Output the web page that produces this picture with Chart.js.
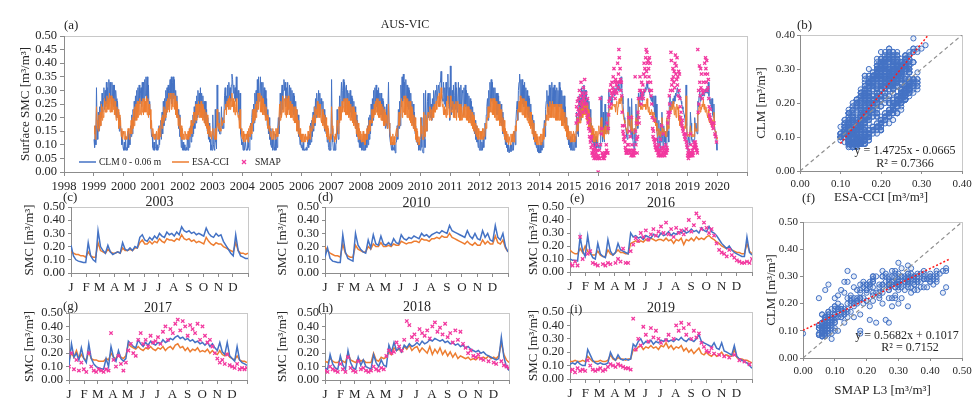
<!DOCTYPE html>
<html>
<head>
<meta charset="utf-8">
<script src="https://cdn.jsdelivr.net/npm/chart.js@4.4.1/dist/chart.umd.min.js"></script>
<style>
  html, body { margin: 0; padding: 0; background: #fff; }
  #fig { position: relative; width: 972px; height: 402px; overflow: hidden; background: #fff;
         font-family: 'Liberation Serif', 'Times New Roman', serif; color: #262626; }
  #fig canvas { position: absolute; }
  .lbl { position: absolute; white-space: nowrap; line-height: 1; transform: translate(0, -50%); }
  .ctr { transform: translate(-50%, -50%); }
</style>
</head>
<body>
<div id="fig"></div>
<script>
// ---------------- Surface soil moisture, weekly values (48 per year, 4 per month), 1999-2019 ----------------
const seriesStartYear = 1999;
const clmWeekly = [
  /*1999*/ 0.12,0.09,0.17,0.10, 0.31,0.17,0.12,0.22, 0.15,0.24,0.17,0.26, 0.20,0.29,0.22,0.27, 0.31,0.23,0.30,0.24, 0.33,0.25,0.31,0.24, 0.34,0.26,0.33,0.27, 0.25,0.33,0.26,0.32, 0.24,0.32,0.23,0.30, 0.27,0.20,0.26,0.21, 0.22,0.15,0.20,0.16, 0.15,0.10,0.13,0.09,
  /*2000*/ 0.08,0.11,0.08,0.13, 0.08,0.09,0.08,0.15, 0.09,0.14,0.10,0.17, 0.13,0.21,0.14,0.23, 0.17,0.26,0.19,0.28, 0.21,0.30,0.22,0.31, 0.24,0.32,0.25,0.29, 0.31,0.24,0.33,0.26, 0.33,0.27,0.34,0.28, 0.35,0.27,0.35,0.26, 0.32,0.23,0.26,0.20, 0.20,0.13,0.14,0.09,
  /*2001*/ 0.08,0.11,0.08,0.09, 0.14,0.08,0.10,0.08, 0.09,0.17,0.10,0.15, 0.19,0.12,0.22,0.14, 0.26,0.17,0.27,0.19, 0.30,0.21,0.31,0.23, 0.32,0.24,0.30,0.34, 0.27,0.35,0.25,0.33, 0.35,0.27,0.34,0.25, 0.30,0.22,0.28,0.20, 0.23,0.16,0.21,0.13, 0.15,0.09,0.13,0.08,
  /*2002*/ 0.11,0.08,0.10,0.08, 0.08,0.09,0.08,0.13, 0.08,0.14,0.09,0.16, 0.17,0.11,0.19,0.13, 0.21,0.14,0.24,0.16, 0.26,0.18,0.28,0.20, 0.30,0.21,0.29,0.22, 0.31,0.23,0.29,0.21, 0.28,0.20,0.26,0.18, 0.26,0.17,0.23,0.15, 0.20,0.12,0.18,0.11, 0.12,0.08,0.10,0.08,
  /*2003*/ 0.21,0.10,0.085,0.08, 0.23,0.11,0.085,0.32, 0.19,0.15,0.22,0.14, 0.14,0.17,0.24,0.16, 0.20,0.16,0.21,0.28, 0.31,0.23,0.28,0.24, 0.32,0.25,0.33,0.27, 0.31,0.26,0.32,0.36, 0.34,0.29,0.32,0.27, 0.31,0.26,0.35,0.27, 0.28,0.30,0.22,0.19, 0.29,0.14,0.12,0.10,
  /*2004*/ 0.11,0.08,0.13,0.08, 0.08,0.11,0.08,0.085, 0.08,0.14,0.09,0.08, 0.11,0.18,0.12,0.20, 0.23,0.15,0.25,0.18, 0.29,0.20,0.30,0.22, 0.34,0.25,0.35,0.26, 0.27,0.35,0.26,0.33, 0.25,0.33,0.24,0.31, 0.22,0.30,0.20,0.27, 0.17,0.23,0.14,0.20, 0.12,0.16,0.10,0.09,
  /*2005*/ 0.12,0.08,0.15,0.09, 0.08,0.14,0.08,0.12, 0.09,0.16,0.20,0.14, 0.19,0.29,0.21,0.28, 0.32,0.23,0.30,0.34, 0.30,0.33,0.24,0.31, 0.25,0.33,0.26,0.23, 0.32,0.25,0.31,0.23, 0.30,0.22,0.29,0.21, 0.28,0.20,0.26,0.18, 0.23,0.15,0.21,0.13, 0.15,0.10,0.12,0.09,
  /*2006*/ 0.10,0.08,0.11,0.08, 0.08,0.085,0.08,0.09, 0.08,0.10,0.13,0.09, 0.14,0.10,0.18,0.11, 0.19,0.13,0.22,0.15, 0.24,0.17,0.27,0.20, 0.29,0.21,0.24,0.30, 0.22,0.29,0.21,0.27, 0.25,0.18,0.26,0.18, 0.23,0.15,0.21,0.14, 0.16,0.11,0.15,0.09, 0.08,0.12,0.08,0.09,
  /*2007*/ 0.34,0.16,0.11,0.08, 0.08,0.11,0.08,0.10, 0.11,0.23,0.14,0.12, 0.17,0.28,0.20,0.27, 0.33,0.24,0.30,0.34, 0.26,0.33,0.24,0.31, 0.32,0.23,0.30,0.22, 0.29,0.21,0.30,0.22, 0.28,0.20,0.27,0.19, 0.26,0.18,0.24,0.16, 0.21,0.13,0.19,0.11, 0.14,0.09,0.13,0.09,
  /*2008*/ 0.11,0.08,0.12,0.08, 0.11,0.08,0.13,0.08, 0.14,0.09,0.17,0.10, 0.20,0.12,0.21,0.14, 0.25,0.17,0.27,0.19, 0.30,0.21,0.31,0.23, 0.32,0.24,0.30,0.22, 0.31,0.23,0.29,0.21, 0.29,0.21,0.27,0.19, 0.26,0.18,0.24,0.16, 0.17,0.25,0.16,0.22, 0.33,0.18,0.13,0.11,
  /*2009*/ 0.10,0.08,0.11,0.08, 0.09,0.08,0.10,0.07, 0.11,0.11,0.17,0.12, 0.23,0.16,0.26,0.17, 0.32,0.24,0.35,0.26, 0.36,0.27,0.33,0.25, 0.34,0.25,0.32,0.24, 0.31,0.23,0.30,0.22, 0.29,0.20,0.26,0.18, 0.25,0.16,0.22,0.14, 0.17,0.11,0.15,0.10, 0.11,0.08,0.11,0.08,
  /*2010*/ 0.12,0.20,0.09,0.075, 0.07,0.29,0.12,0.09, 0.30,0.18,0.15,0.26, 0.29,0.20,0.22,0.29, 0.20,0.25,0.19,0.27, 0.22,0.30,0.24,0.28, 0.30,0.25,0.32,0.27, 0.27,0.32,0.29,0.33, 0.33,0.37,0.29,0.27, 0.26,0.33,0.25,0.31, 0.24,0.33,0.26,0.31, 0.36,0.25,0.31,0.19,
  /*2011*/ 0.39,0.26,0.21,0.30, 0.23,0.32,0.21,0.28, 0.33,0.23,0.31,0.22, 0.25,0.33,0.23,0.31, 0.24,0.32,0.22,0.30, 0.29,0.21,0.31,0.23, 0.32,0.24,0.30,0.22, 0.29,0.21,0.28,0.20, 0.27,0.19,0.26,0.18, 0.24,0.16,0.22,0.14, 0.19,0.12,0.17,0.11, 0.12,0.09,0.13,0.08,
  /*2012*/ 0.08,0.12,0.08,0.11, 0.08,0.13,0.09,0.15, 0.18,0.12,0.21,0.24, 0.27,0.19,0.30,0.22, 0.33,0.24,0.34,0.26, 0.33,0.25,0.31,0.23, 0.31,0.23,0.29,0.21, 0.29,0.21,0.28,0.20, 0.26,0.18,0.25,0.17, 0.22,0.14,0.20,0.13, 0.15,0.10,0.14,0.09, 0.10,0.075,0.10,0.07,
  /*2013*/ 0.07,0.10,0.075,0.10, 0.08,0.11,0.08,0.13, 0.15,0.10,0.19,0.23, 0.26,0.19,0.30,0.33, 0.36,0.26,0.34,0.27, 0.34,0.25,0.32,0.24, 0.33,0.24,0.31,0.23, 0.30,0.21,0.28,0.20, 0.27,0.18,0.25,0.17, 0.21,0.14,0.19,0.12, 0.15,0.10,0.14,0.09, 0.10,0.075,0.10,0.07,
  /*2014*/ 0.07,0.10,0.07,0.11, 0.08,0.12,0.09,0.16, 0.19,0.13,0.23,0.26, 0.30,0.22,0.28,0.21, 0.32,0.24,0.31,0.23, 0.33,0.25,0.31,0.24, 0.32,0.24,0.30,0.23, 0.31,0.23,0.30,0.22, 0.33,0.24,0.31,0.23, 0.30,0.21,0.28,0.20, 0.28,0.18,0.24,0.16, 0.20,0.12,0.17,0.10,
  /*2015*/ 0.12,0.09,0.13,0.08, 0.11,0.08,0.12,0.08, 0.08,0.11,0.13,0.09, 0.22,0.14,0.20,0.13, 0.28,0.20,0.27,0.19, 0.31,0.23,0.30,0.22, 0.32,0.24,0.30,0.22, 0.30,0.21,0.27,0.19, 0.26,0.17,0.23,0.15, 0.18,0.11,0.16,0.10, 0.12,0.09,0.13,0.085, 0.13,0.09,0.12,0.09,
  /*2016*/ 0.10,0.09,0.085,0.27, 0.28,0.15,0.11,0.22, 0.13,0.11,0.25,0.14, 0.15,0.22,0.16,0.14, 0.30,0.27,0.28,0.26, 0.27,0.25,0.28,0.29, 0.30,0.28,0.31,0.29, 0.30,0.31,0.32,0.30, 0.33,0.31,0.30,0.34, 0.35,0.31,0.28,0.25, 0.22,0.20,0.18,0.17, 0.15,0.13,0.12,0.27,
  /*2017*/ 0.27,0.17,0.24,0.16, 0.13,0.27,0.16,0.12, 0.10,0.085,0.16,0.10, 0.25,0.17,0.22,0.16, 0.29,0.27,0.25,0.30, 0.27,0.28,0.26,0.29, 0.28,0.30,0.29,0.31, 0.30,0.32,0.33,0.31, 0.30,0.31,0.29,0.28, 0.27,0.26,0.28,0.25, 0.24,0.28,0.21,0.28, 0.18,0.25,0.15,0.11,
  /*2018*/ 0.09,0.19,0.12,0.08, 0.18,0.11,0.22,0.13, 0.09,0.17,0.11,0.15, 0.10,0.08,0.19,0.13, 0.15,0.11,0.26,0.28, 0.22,0.24,0.26,0.24, 0.27,0.25,0.28,0.26, 0.29,0.28,0.30,0.31, 0.29,0.30,0.28,0.27, 0.28,0.26,0.25,0.24, 0.23,0.22,0.21,0.20, 0.17,0.32,0.17,0.08,
  /*2019*/ 0.11,0.13,0.11,0.10, 0.22,0.18,0.12,0.11, 0.12,0.11,0.12,0.20, 0.16,0.18,0.15,0.14, 0.26,0.24,0.28,0.30, 0.26,0.28,0.27,0.29, 0.28,0.29,0.28,0.29, 0.30,0.29,0.31,0.29, 0.30,0.33,0.28,0.26, 0.25,0.27,0.23,0.27, 0.21,0.20,0.25,0.17, 0.15,0.13,0.11,0.08
];
const esaWeekly = [
  /*1999*/ 0.14,0.17,0.12,0.16, 0.24,0.19,0.16,0.15, 0.21,0.16,0.22,0.17, 0.25,0.19,0.24,0.20, 0.21,0.27,0.22,0.26, 0.22,0.28,0.23,0.27, 0.23,0.29,0.22,0.28, 0.28,0.22,0.27,0.23, 0.27,0.21,0.26,0.21, 0.19,0.24,0.20,0.23, 0.16,0.21,0.17,0.19, 0.13,0.16,0.12,0.15,
  /*2000*/ 0.14,0.12,0.15,0.12, 0.13,0.12,0.14,0.16, 0.15,0.12,0.16,0.14, 0.19,0.14,0.20,0.16, 0.23,0.17,0.24,0.19, 0.25,0.19,0.26,0.20, 0.26,0.21,0.27,0.22, 0.21,0.26,0.22,0.27, 0.21,0.27,0.22,0.26, 0.22,0.28,0.21,0.27, 0.20,0.25,0.21,0.23, 0.16,0.19,0.13,0.16,
  /*2001*/ 0.14,0.12,0.14,0.12, 0.12,0.15,0.12,0.14, 0.16,0.12,0.17,0.13, 0.15,0.20,0.16,0.21, 0.18,0.24,0.19,0.23, 0.20,0.26,0.22,0.27, 0.23,0.29,0.22,0.27, 0.29,0.23,0.29,0.24, 0.24,0.29,0.23,0.28, 0.21,0.26,0.20,0.25, 0.17,0.21,0.16,0.20, 0.13,0.17,0.12,0.16,
  /*2002*/ 0.12,0.14,0.12,0.15, 0.14,0.12,0.14,0.12, 0.15,0.12,0.16,0.13, 0.15,0.19,0.14,0.18, 0.17,0.22,0.18,0.22, 0.19,0.25,0.19,0.25, 0.21,0.26,0.20,0.25, 0.20,0.26,0.20,0.25, 0.19,0.24,0.18,0.23, 0.17,0.22,0.16,0.21, 0.14,0.18,0.13,0.17, 0.13,0.15,0.12,0.14,
  /*2003*/ 0.16,0.14,0.13,0.12, 0.16,0.12,0.12,0.23, 0.17,0.16,0.18,0.15, 0.16,0.15,0.20,0.17, 0.17,0.19,0.18,0.23, 0.23,0.25,0.21,0.26, 0.24,0.27,0.23,0.28, 0.23,0.27,0.24,0.29, 0.24,0.27,0.22,0.26, 0.21,0.24,0.27,0.22, 0.22,0.20,0.21,0.16, 0.23,0.16,0.16,0.13,
  /*2004*/ 0.12,0.15,0.11,0.14, 0.13,0.11,0.14,0.12, 0.15,0.11,0.16,0.13, 0.17,0.13,0.18,0.14, 0.17,0.23,0.18,0.23, 0.19,0.25,0.20,0.26, 0.23,0.29,0.23,0.29, 0.28,0.22,0.28,0.22, 0.27,0.21,0.27,0.21, 0.25,0.19,0.24,0.19, 0.21,0.16,0.20,0.15, 0.17,0.13,0.15,0.12,
  /*2005*/ 0.12,0.16,0.12,0.15, 0.15,0.12,0.16,0.13, 0.16,0.13,0.17,0.20, 0.25,0.19,0.26,0.20, 0.22,0.28,0.22,0.26, 0.27,0.21,0.28,0.20, 0.27,0.21,0.28,0.23, 0.21,0.26,0.20,0.25, 0.20,0.25,0.19,0.24, 0.18,0.24,0.18,0.23, 0.15,0.20,0.14,0.19, 0.13,0.16,0.12,0.14,
  /*2006*/ 0.11,0.14,0.11,0.14, 0.13,0.11,0.14,0.12, 0.13,0.11,0.15,0.12, 0.13,0.17,0.12,0.16, 0.15,0.20,0.16,0.21, 0.18,0.24,0.18,0.23, 0.21,0.26,0.20,0.25, 0.25,0.20,0.25,0.19, 0.18,0.23,0.17,0.22, 0.16,0.21,0.15,0.20, 0.13,0.17,0.12,0.16, 0.13,0.11,0.14,0.12,
  /*2007*/ 0.24,0.17,0.14,0.13, 0.13,0.11,0.14,0.12, 0.15,0.19,0.17,0.14, 0.24,0.18,0.24,0.19, 0.21,0.26,0.22,0.24, 0.27,0.22,0.27,0.21, 0.21,0.27,0.21,0.26, 0.20,0.26,0.19,0.25, 0.19,0.24,0.18,0.24, 0.17,0.23,0.16,0.22, 0.14,0.19,0.13,0.18, 0.12,0.16,0.12,0.15,
  /*2008*/ 0.11,0.14,0.11,0.15, 0.11,0.14,0.10,0.14, 0.12,0.16,0.12,0.17, 0.14,0.19,0.15,0.19, 0.18,0.23,0.18,0.23, 0.20,0.25,0.21,0.26, 0.22,0.27,0.21,0.27, 0.20,0.26,0.20,0.26, 0.19,0.25,0.19,0.24, 0.17,0.23,0.17,0.22, 0.18,0.21,0.16,0.19, 0.25,0.18,0.16,0.13,
  /*2009*/ 0.10,0.13,0.10,0.14, 0.10,0.13,0.10,0.13, 0.13,0.16,0.13,0.17, 0.17,0.22,0.17,0.21, 0.21,0.27,0.20,0.26, 0.22,0.28,0.21,0.28, 0.21,0.27,0.20,0.27, 0.20,0.26,0.19,0.26, 0.18,0.24,0.17,0.23, 0.16,0.21,0.15,0.20, 0.12,0.16,0.11,0.15, 0.10,0.13,0.10,0.13,
  /*2010*/ 0.20,0.17,0.14,0.12, 0.12,0.22,0.16,0.13, 0.21,0.19,0.15,0.21, 0.22,0.21,0.19,0.24, 0.22,0.19,0.23,0.20, 0.24,0.20,0.25,0.22, 0.22,0.26,0.23,0.27, 0.28,0.24,0.29,0.24, 0.26,0.31,0.27,0.24, 0.25,0.21,0.24,0.21, 0.23,0.20,0.26,0.21, 0.28,0.24,0.23,0.20,
  /*2011*/ 0.28,0.24,0.22,0.22, 0.26,0.20,0.25,0.20, 0.20,0.26,0.19,0.25, 0.26,0.20,0.25,0.19, 0.25,0.19,0.24,0.19, 0.19,0.24,0.20,0.25, 0.20,0.25,0.19,0.24, 0.19,0.24,0.18,0.23, 0.18,0.23,0.17,0.22, 0.16,0.21,0.15,0.20, 0.14,0.18,0.13,0.17, 0.12,0.16,0.12,0.15,
  /*2012*/ 0.15,0.12,0.15,0.12, 0.16,0.12,0.16,0.13, 0.14,0.18,0.16,0.20, 0.19,0.24,0.20,0.24, 0.22,0.27,0.22,0.27, 0.21,0.27,0.21,0.27, 0.20,0.26,0.19,0.26, 0.19,0.25,0.19,0.25, 0.17,0.23,0.17,0.23, 0.15,0.20,0.14,0.19, 0.12,0.16,0.11,0.15, 0.11,0.14,0.10,0.13,
  /*2013*/ 0.13,0.10,0.14,0.11, 0.14,0.11,0.15,0.11, 0.13,0.17,0.15,0.19, 0.19,0.23,0.22,0.26, 0.22,0.28,0.22,0.27, 0.21,0.27,0.21,0.27, 0.20,0.26,0.20,0.26, 0.19,0.24,0.18,0.24, 0.17,0.22,0.16,0.22, 0.14,0.19,0.13,0.18, 0.11,0.15,0.11,0.14, 0.10,0.13,0.10,0.13,
  /*2014*/ 0.13,0.10,0.14,0.10, 0.14,0.11,0.16,0.12, 0.14,0.18,0.17,0.21, 0.19,0.25,0.19,0.24, 0.20,0.26,0.20,0.25, 0.20,0.26,0.20,0.25, 0.20,0.25,0.19,0.25, 0.19,0.25,0.19,0.24, 0.19,0.25,0.19,0.25, 0.17,0.23,0.17,0.22, 0.16,0.22,0.15,0.20, 0.13,0.17,0.12,0.16,
  /*2015*/ 0.12,0.15,0.11,0.15, 0.11,0.14,0.11,0.15, 0.14,0.11,0.12,0.15, 0.15,0.20,0.15,0.19, 0.18,0.24,0.18,0.23, 0.20,0.26,0.20,0.25, 0.21,0.27,0.21,0.25, 0.19,0.25,0.18,0.23, 0.16,0.22,0.15,0.20, 0.13,0.17,0.12,0.16, 0.11,0.14,0.11,0.15, 0.12,0.15,0.11,0.14,
  /*2016*/ 0.17,0.14,0.14,0.18, 0.20,0.15,0.13,0.16, 0.13,0.12,0.17,0.14, 0.14,0.17,0.15,0.14, 0.22,0.23,0.24,0.23, 0.24,0.23,0.25,0.25, 0.25,0.24,0.25,0.22, 0.25,0.26,0.21,0.24, 0.26,0.27,0.25,0.26, 0.28,0.26,0.23,0.22, 0.20,0.19,0.18,0.17, 0.16,0.15,0.14,0.22,
  /*2017*/ 0.20,0.17,0.19,0.16, 0.15,0.21,0.16,0.15, 0.14,0.14,0.16,0.15, 0.20,0.17,0.19,0.17, 0.27,0.25,0.24,0.25, 0.23,0.24,0.23,0.25, 0.24,0.25,0.24,0.25, 0.23,0.26,0.27,0.24, 0.22,0.24,0.21,0.22, 0.21,0.23,0.22,0.20, 0.19,0.22,0.18,0.20, 0.17,0.18,0.15,0.13,
  /*2018*/ 0.14,0.16,0.14,0.13, 0.15,0.14,0.20,0.15, 0.14,0.16,0.14,0.15, 0.13,0.13,0.20,0.15, 0.17,0.16,0.21,0.24, 0.22,0.23,0.25,0.23, 0.26,0.24,0.21,0.24, 0.22,0.20,0.25,0.23, 0.24,0.19,0.21,0.17, 0.20,0.17,0.18,0.16, 0.17,0.15,0.16,0.17, 0.16,0.28,0.19,0.13,
  /*2019*/ 0.13,0.14,0.13,0.14, 0.17,0.15,0.13,0.13, 0.14,0.13,0.13,0.18, 0.15,0.16,0.15,0.15, 0.22,0.21,0.24,0.25, 0.22,0.24,0.23,0.25, 0.24,0.27,0.23,0.25, 0.22,0.24,0.23,0.21, 0.20,0.23,0.19,0.18, 0.20,0.18,0.17,0.19, 0.17,0.18,0.22,0.16, 0.15,0.14,0.13,0.12
];

// ---------------- Selected years at 5-day steps (73 values, 1 Jan to 31 Dec) ----------------
const clm2003 = [0.21,0.13,0.10,0.09,0.085,0.08,0.08, 0.23,0.13,0.10,0.085, 0.32,0.20,0.17,0.15, 0.21,0.16,0.14,0.15,0.16,0.15,
  0.23,0.18,0.17,0.19,0.17,0.20,0.19, 0.27,0.29,0.25,0.24,0.27,0.25,0.28,0.26, 0.30,0.28,0.27,0.31,0.29,0.30,0.28,0.31,0.29,
  0.35,0.32,0.31,0.32,0.30,0.31,0.29,0.30,0.29,0.28, 0.34,0.30,0.28,0.27,0.30,0.28,0.29, 0.24,0.21,0.18,0.15,0.13, 0.29,0.17,0.13,0.12,0.11,0.11];
const esa2003 = [0.16,0.15,0.14,0.14,0.13,0.13,0.12, 0.16,0.13,0.12,0.12, 0.23,0.17,0.16,0.15, 0.18,0.16,0.15,0.15,0.16,0.15,
  0.19,0.17,0.17,0.18,0.17,0.19,0.19, 0.23,0.25,0.22,0.22,0.24,0.22,0.24,0.23, 0.26,0.24,0.23,0.26,0.25,0.25,0.24,0.26,0.25,
  0.29,0.26,0.25,0.26,0.24,0.25,0.23,0.24,0.23,0.22, 0.27,0.24,0.22,0.21,0.23,0.22,0.22, 0.20,0.19,0.18,0.17,0.16, 0.23,0.17,0.15,0.15,0.14,0.15];

const clm2010 = [0.12,0.19,0.11,0.09,0.085,0.08,0.08, 0.29,0.16,0.11,0.10, 0.09,0.30,0.21,0.18, 0.16,0.15,0.25,0.19,0.29,0.22,
  0.21,0.28,0.22,0.21,0.23,0.21,0.26, 0.23,0.22,0.29,0.26,0.25,0.27,0.26,0.28, 0.27,0.26,0.30,0.28,0.29,0.27,0.29,0.30,0.31,
  0.30,0.32,0.31,0.30,0.36,0.32,0.31,0.30,0.29,0.28, 0.27,0.32,0.28,0.26,0.30,0.26,0.25, 0.32,0.27,0.30,0.25,0.24, 0.36,0.27,0.25,0.30,0.20,0.16];
const esa2010 = [0.20,0.17,0.15,0.14,0.13,0.13,0.12, 0.22,0.15,0.13,0.12, 0.12,0.21,0.18,0.17, 0.16,0.16,0.20,0.18,0.22,0.20,
  0.20,0.23,0.20,0.20,0.21,0.20,0.22, 0.21,0.21,0.24,0.23,0.22,0.23,0.23,0.24, 0.24,0.23,0.26,0.25,0.25,0.24,0.26,0.26,0.27,
  0.26,0.28,0.27,0.27,0.30,0.27,0.26,0.25,0.24,0.23, 0.22,0.24,0.22,0.21,0.23,0.21,0.21, 0.25,0.22,0.24,0.22,0.22, 0.28,0.23,0.22,0.25,0.19,0.16];

const clm2016 = [0.10,0.09,0.09,0.085,0.27,0.16,0.12, 0.28,0.15,0.11,0.10, 0.22,0.14,0.12,0.11, 0.25,0.16,0.13,0.15,0.22,0.17,
  0.16,0.15,0.14,0.30,0.27,0.28,0.26, 0.27,0.25,0.28,0.27,0.26,0.29,0.28,0.27, 0.30,0.28,0.29,0.31,0.28,0.30,0.29,0.31,0.30,
  0.32,0.30,0.31,0.33,0.31,0.32,0.30,0.34,0.32,0.31, 0.35,0.31,0.30,0.28,0.25,0.22,0.20, 0.18,0.20,0.17,0.15,0.14, 0.13,0.12,0.12,0.27,0.15,0.13];
const esa2016 = [0.17,0.15,0.14,0.14,0.18,0.15,0.20, 0.16,0.14,0.13,0.13, 0.16,0.13,0.12,0.12, 0.17,0.14,0.13,0.15,0.17,0.15,
  0.15,0.14,0.14,0.22,0.23,0.24,0.23, 0.24,0.23,0.25,0.24,0.26,0.25,0.24,0.25, 0.25,0.24,0.26,0.24,0.25,0.22,0.25,0.24,0.26,
  0.21,0.25,0.24,0.26,0.24,0.27,0.25,0.26,0.25,0.27, 0.28,0.26,0.25,0.23,0.22,0.20,0.19, 0.18,0.19,0.17,0.16,0.15, 0.15,0.14,0.14,0.22,0.16,0.14];
const smap2016 = [0.06,0.05,0.08,0.05,0.27,0.10,null, 0.14,0.16,0.07,0.06, 0.05,null,0.06,0.05, 0.07,0.06,null,0.07,0.10,0.08,
  0.18,0.07,0.07,0.16,0.21,0.26,0.24, 0.30,0.27,0.32,0.25,0.29,0.33,0.28,0.31, 0.35,0.30,0.38,0.29,0.33,0.27,0.34,0.30,0.32,
  0.29,0.33,0.40,0.31,0.36,0.45,0.42,0.33,0.38,0.34, 0.30,0.33,0.28,0.22,0.17,0.15,0.14, 0.12,0.17,0.13,0.11,0.09, 0.08,0.07,0.07,0.08,0.07,0.10];

const clm2017 = [0.11,0.27,0.17,0.20,0.15,0.24,0.16, 0.13,0.27,0.16,0.12, 0.10,0.09,0.085,0.08, 0.16,0.10,0.25,0.17,0.14,0.22,
  0.16,0.14,0.16,0.29,0.27,0.25,0.24, 0.30,0.27,0.25,0.28,0.26,0.29,0.27,0.26, 0.28,0.27,0.30,0.28,0.29,0.31,0.30,0.32,0.33,
  0.31,0.32,0.30,0.31,0.29,0.30,0.28,0.29,0.27,0.28, 0.26,0.28,0.25,0.27,0.24,0.22,0.28, 0.21,0.19,0.28,0.18,0.16, 0.14,0.25,0.15,0.13,0.12,0.11];
const esa2017 = [0.15,0.20,0.17,0.22,0.16,0.19,0.16, 0.15,0.21,0.16,0.15, 0.15,0.14,0.14,0.14, 0.16,0.15,0.20,0.17,0.16,0.19,
  0.17,0.16,0.18,0.27,0.25,0.24,0.23, 0.25,0.23,0.22,0.24,0.23,0.25,0.23,0.22, 0.24,0.23,0.25,0.22,0.24,0.25,0.23,0.26,0.27,
  0.24,0.25,0.22,0.24,0.21,0.23,0.22,0.24,0.21,0.22, 0.21,0.23,0.20,0.22,0.20,0.19,0.22, 0.19,0.18,0.20,0.17,0.16, 0.15,0.18,0.15,0.14,0.14,0.13];
const smap2017 = [0.10,0.20,0.08,0.15,0.07,0.13,0.08, 0.06,0.20,0.10,0.07, 0.06,0.08,0.07,0.06, 0.08,0.07,0.35,0.15,0.10,0.18,
  0.12,0.07,0.13,0.22,0.27,0.20,0.18, 0.30,0.35,0.27,0.30,0.25,0.33,0.28,0.29, 0.32,0.27,0.36,0.40,0.30,0.38,0.35,0.42,0.45,
  0.37,0.44,0.40,0.33,0.41,0.38,0.35,0.42,0.30,0.40, 0.33,0.28,0.30,0.25,0.20,0.16,0.13, 0.15,0.12,0.19,0.11,0.10, 0.09,0.12,0.08,0.09,0.08,0.09];

const clm2018 = [0.09,0.08,0.19,0.12,0.09,0.08,0.18, 0.11,0.08,0.22,0.13, 0.09,0.08,0.17,0.11, 0.15,0.10,0.09,0.08,0.19,0.13,
  0.10,0.15,0.11,0.10,0.26,0.21,0.28, 0.22,0.24,0.21,0.26,0.24,0.27,0.25,0.26, 0.28,0.26,0.29,0.27,0.28,0.30,0.29,0.31,0.30,
  0.29,0.30,0.28,0.29,0.27,0.28,0.26,0.27,0.25,0.26, 0.24,0.25,0.23,0.22,0.21,0.22,0.20, 0.21,0.19,0.18,0.17,0.16, 0.15,0.16,0.32,0.17,0.10,0.07];
const esa2018 = [0.14,0.13,0.16,0.14,0.13,0.13,0.15, 0.14,0.13,0.20,0.15, 0.14,0.13,0.16,0.14, 0.15,0.13,0.13,0.13,0.20,0.15,
  0.14,0.17,0.16,0.17,0.21,0.19,0.24, 0.22,0.23,0.21,0.25,0.23,0.26,0.22,0.24, 0.25,0.21,0.24,0.22,0.20,0.25,0.19,0.23,0.20,
  0.24,0.19,0.22,0.18,0.21,0.17,0.20,0.16,0.18,0.17, 0.16,0.17,0.15,0.16,0.15,0.17,0.16, 0.17,0.16,0.18,0.16,0.17, 0.16,0.18,0.28,0.19,0.15,0.13];
const smap2018 = [0.07,0.06,0.10,0.08,0.07,0.06,0.12, 0.08,0.06,0.17,0.09, 0.07,0.06,0.14,0.08, 0.09,0.07,0.06,0.07,0.10,0.08,
  0.07,0.09,0.08,0.18,0.22,0.20,0.21, 0.28,0.25,0.22,0.30,0.44,0.41,0.32,0.34, 0.30,0.38,0.35,0.33,0.37,0.31,0.40,0.43,0.36,
  0.39,0.34,0.42,0.32,0.35,0.28,0.37,0.30,0.36,0.27, 0.24,0.20,0.22,0.18,0.17,0.19,0.16, 0.15,null,0.14,null,0.13, 0.12,null,0.14,0.11,0.10,0.09];

const clm2019 = [0.11,0.12,0.11,0.13,0.11,0.10,0.10, 0.22,0.18,0.14,0.12, 0.11,0.12,0.11,0.11, 0.12,0.20,0.16,0.14,0.18,0.15,
  0.14,0.15,0.14,0.15,0.26,0.24,0.28, 0.30,0.26,0.28,0.27,0.29,0.26,0.28,0.27, 0.29,0.28,0.30,0.28,0.29,0.28,0.30,0.29,0.31,
  0.29,0.28,0.30,0.29,0.28,0.30,0.33,0.28,0.27,0.26, 0.25,0.24,0.27,0.23,0.22,0.27,0.21, 0.20,0.19,0.18,0.25,0.17, 0.15,0.14,0.13,0.12,0.10,0.08];
const esa2019 = [0.13,0.13,0.14,0.13,0.13,0.14,0.13, 0.17,0.15,0.13,0.13, 0.13,0.14,0.13,0.13, 0.14,0.18,0.15,0.14,0.16,0.15,
  0.15,0.14,0.15,0.15,0.22,0.21,0.24, 0.25,0.22,0.24,0.23,0.25,0.23,0.24,0.22, 0.25,0.24,0.27,0.23,0.25,0.22,0.24,0.23,0.25,
  0.21,0.23,0.20,0.22,0.19,0.21,0.23,0.19,0.18,0.20, 0.18,0.17,0.19,0.17,0.18,0.20,0.17, 0.18,0.17,0.17,0.22,0.16, 0.15,0.15,0.14,0.14,0.13,0.12];
const smap2019 = [0.06,0.07,0.05,0.08,0.06,0.07,0.06, 0.14,0.10,0.07,0.06, 0.07,0.08,0.06,0.07, 0.09,0.11,0.10,0.09,0.11,0.10,
  0.09,0.08,0.08,0.07,0.45,0.22,0.30, 0.25,0.39,0.33,0.28,0.38,0.31,0.36,0.30, 0.27,null,0.29,0.33,null,0.30,0.40,0.36,0.42,
  0.38,0.33,0.41,0.30,0.36,0.31,0.34,0.27,0.24,0.21, 0.20,0.23,0.19,null,0.18,null,0.17, null,0.16,null,0.18,null, 0.14,null,0.13,null,0.11,null];

// SMAP L3 in 2015 starts in April (5-day step index 18 onwards)
const smap2015StartIndex = 18;
const smap2015 = [0.18,0.24,0.21,0.26,0.19,0.23, 0.27,0.22,0.30,0.25,0.21,0.28, 0.33,0.26,0.24,0.29,0.22,0.27,
  0.31,0.25,0.28,0.34,0.26,0.23, 0.29,0.22,0.25,0.20,0.27,0.18,0.21, 0.16,0.19,0.13,0.15,0.11,0.12,
  0.09,0.13,0.07,0.10,0.06,0.08, 0.07,0.05,0.09,0.06,0.08,0.05, 0.07,0.10,0.06,0.08,0.05,0.00];

// ---------------- Axes ----------------
const yearTicks = [1998,1999,2000,2001,2002,2003,2004,2005,2006,2007,2008,2009,2010,2011,2012,2013,2014,2015,2016,2017,2018,2019,2020,2021];
const lastLabelledYear = 2020;
const smcTicksSeries = [0,0.05,0.10,0.15,0.20,0.25,0.30,0.35,0.40,0.45,0.50];
const smcTicksYear = [0,0.1,0.2,0.3,0.4,0.5];
const monthLabels = ['J','F','M','A','M','J','J','A','S','O','N','D'];
const monthStartDays = [0,31,59,90,120,151,181,212,243,273,304,334,365];
const scatterTicksEsa = [0,0.1,0.2,0.3,0.4];
const scatterTicksSmap = [0,0.1,0.2,0.3,0.4,0.5];

// ---------------- Linear fits ----------------
const fitClmEsa = { slope: 1.4725, intercept: -0.0665, r2: 0.7366, xFrom: 0.10, xTo: 0.317 };
const fitClmSmap = { slope: 0.5682, intercept: 0.1017, r2: 0.7152, xFrom: 0.0, xTo: 0.46 };

// ---------------- Styling ----------------
const COL = { clm: '#4472C4', esa: '#ED7D31', smap: '#F2389F', axis: '#8C8C8C', frame: '#C8C8C8', text: '#262626' };
const FONT = "'Liberation Serif', 'Times New Roman', serif";
Chart.defaults.font.family = FONT;
Chart.defaults.color = COL.text;

const fig = document.getElementById('fig');

const framePlugin = {
  id: 'plotFrame',
  beforeDraw(chart) {
    const { ctx, chartArea: a } = chart;
    ctx.save();
    ctx.strokeStyle = COL.frame;
    ctx.lineWidth = 1;
    ctx.strokeRect(Math.round(a.left) + 0.5, Math.round(a.top) + 0.5,
                   Math.round(a.right - a.left), Math.round(a.bottom - a.top));
    ctx.restore();
  }
};

// legend drawn inside the plot area of the series panel
const insetLegend = {
  id: 'insetLegend',
  afterDatasetsDraw(chart, args, o) {
    if (!o || !o.items) return;
    const { ctx, chartArea: a } = chart;
    const y = a.bottom + o.dy;
    ctx.save();
    ctx.font = o.size + 'px ' + FONT;
    ctx.textBaseline = 'middle';
    o.items.forEach(it => {
      const ds = chart.data.datasets[it.index];
      const x = a.left + it.dx;
      ctx.strokeStyle = ds.borderColor;
      if (it.kind === 'line') {
        ctx.lineWidth = 1.5;
        ctx.beginPath(); ctx.moveTo(x, y); ctx.lineTo(x + 17, y); ctx.stroke();
      } else {
        ctx.lineWidth = 1.3;
        const r = 2;
        ctx.beginPath();
        ctx.moveTo(x - r, y - r); ctx.lineTo(x + r, y + r);
        ctx.moveTo(x - r, y + r); ctx.lineTo(x + r, y - r);
        ctx.stroke();
      }
      ctx.fillStyle = COL.text;
      ctx.fillText(ds.label, a.left + it.textDx, y);
    });
    ctx.restore();
  }
};

function addPanel(spec) {
  const { box, area, yTitleX, x, y, datasets } = spec;
  const cv = document.createElement('canvas');
  cv.width = box.w; cv.height = box.h;
  cv.style.left = box.x + 'px'; cv.style.top = box.y + 'px';
  cv.style.width = box.w + 'px'; cv.style.height = box.h + 'px';
  fig.appendChild(cv);

  const titleSize = 13;
  const padLeft = yTitleX - titleSize * 1.2 / 2 - box.x;
  const yw = area.l - box.x - padLeft;
  const xh = box.y + box.h - area.b;
  const fixSize = size => ax => {
    if (ax.isHorizontal()) ax.height = size; else ax.width = size;
    ax.paddingLeft = ax.paddingRight = ax.paddingTop = ax.paddingBottom = 0;
  };
  const scale = (s, size) => ({
    type: 'linear', min: s.min, max: s.max,
    afterBuildTicks: ax => { ax.ticks = s.ticks.map(v => ({ value: v })); },
    afterFit: fixSize(size),
    ticks: { autoSkip: false, maxRotation: 0, minRotation: 0, padding: s.pad, color: COL.text,
             font: { size: s.font }, callback: s.label },
    grid: { drawOnChartArea: false, drawTicks: true, tickLength: s.tl, color: COL.axis, lineWidth: 1 },
    border: { display: true, color: COL.axis, width: 1 },
    title: s.title ? { display: true, text: s.title, padding: 0, color: COL.text, font: { size: titleSize } }
                   : { display: false }
  });
  return new Chart(cv, {
    type: 'scatter',
    data: { datasets },
    options: {
      responsive: false, animation: false, devicePixelRatio: 1, events: [],
      layout: { padding: { left: padLeft, top: area.t - box.y, right: box.x + box.w - area.r, bottom: 0 } },
      scales: { x: scale(x, xh), y: scale(y, yw) },
      plugins: Object.assign({ legend: { display: false }, tooltip: { enabled: false } }, spec.pluginOpts || {})
    },
    plugins: [framePlugin].concat(spec.plugins || [])
  });
}

function addText(txt, x, y, size, center) {
  const d = document.createElement('div');
  d.className = 'lbl' + (center ? ' ctr' : '');
  d.style.left = x + 'px'; d.style.top = y + 'px'; d.style.fontSize = size + 'px';
  d.textContent = txt;
  fig.appendChild(d);
}

// ---------------- Derived point lists ----------------
const weekTime = k => seriesStartYear + Math.floor(k / 48) + ((k % 48) + 0.5) / 48;
const stepDay = i => i * 365 / 72;

const selectedYears = [
  { year: 2003, clm: clm2003, esa: esa2003, smap: null },
  { year: 2010, clm: clm2010, esa: esa2010, smap: null },
  { year: 2016, clm: clm2016, esa: esa2016, smap: smap2016 },
  { year: 2017, clm: clm2017, esa: esa2017, smap: smap2017 },
  { year: 2018, clm: clm2018, esa: esa2018, smap: smap2018 },
  { year: 2019, clm: clm2019, esa: esa2019, smap: smap2019 }
];
const yearRec = yr => selectedYears.find(r => r.year === yr);

// SMAP points on the long time axis
const smapSeriesPoints = [];
smap2015.forEach((v, j) => {
  if (v !== null) smapSeriesPoints.push({ x: 2015 + (smap2015StartIndex + j) / 73, y: v });
});
[2016, 2017, 2018, 2019].forEach(yr => {
  yearRec(yr).smap.forEach((v, i) => { if (v !== null) smapSeriesPoints.push({ x: yr + i / 73, y: v }); });
});

// CLM vs ESA-CCI pairs
const pairsEsa = clmWeekly.map((c, k) => ({ x: esaWeekly[k], y: c }));
selectedYears.forEach(r => r.clm.forEach((c, i) => pairsEsa.push({ x: r.esa[i], y: c })));

// CLM vs SMAP pairs (2015 SMAP matched with the CLM week it falls in)
const pairsSmap = [];
smap2015.forEach((v, j) => {
  if (v === null) return;
  const i = smap2015StartIndex + j;
  const k = (2015 - seriesStartYear) * 48 + Math.min(47, Math.floor(i / 73 * 48));
  pairsSmap.push({ x: v, y: clmWeekly[k] });
});
[2016, 2017, 2018, 2019].forEach(yr => {
  const r = yearRec(yr);
  r.smap.forEach((v, i) => { if (v !== null) pairsSmap.push({ x: v, y: r.clm[i] }); });
});

// ---------------- (a) long series ----------------
const lineSet = (label, data, color, width, order) => ({
  label, data, showLine: true, borderColor: color, backgroundColor: color, borderWidth: width,
  pointRadius: 0, tension: 0, order
});
const smapSet = (data, r) => ({
  label: 'SMAP', data, showLine: false, pointStyle: 'crossRot', pointRadius: r, pointBorderWidth: 1.3,
  borderColor: COL.smap, backgroundColor: COL.smap, order: 0
});

addPanel({
  box: { x: 0, y: 14, w: 760, h: 181 }, area: { l: 64, t: 36, r: 747, b: 172 }, yTitleX: 26,
  x: { min: 1998, max: 2021, ticks: yearTicks, font: 12.5, tl: 4, pad: 3,
       label: v => (v > lastLabelledYear ? '' : String(v)) },
  y: { min: 0, max: 0.5, ticks: smcTicksSeries, font: 12.5, tl: 4, pad: 3, label: v => v.toFixed(2),
       title: 'Surface SMC [m³/m³]' },
  datasets: [
    lineSet('CLM 0 - 0.06 m', clmWeekly.map((v, k) => ({ x: weekTime(k), y: v })), COL.clm, 1, 2),
    lineSet('ESA-CCI', esaWeekly.map((v, k) => ({ x: weekTime(k), y: v })), COL.esa, 1, 1),
    smapSet(smapSeriesPoints, 2.2)
  ],
  plugins: [insetLegend],
  pluginOpts: { insetLegend: { dy: -10, size: 9.5, items: [
    { index: 0, kind: 'line', dx: 15, textDx: 35 },
    { index: 1, kind: 'line', dx: 108, textDx: 128 },
    { index: 2, kind: 'point', dx: 180, textDx: 191 }
  ] } }
});

// ---------------- (c)-(e), (g)-(i) single years ----------------
function yearPanel(rec, box, area, yTitleX) {
  const sets = [
    lineSet('CLM', rec.clm.map((v, i) => ({ x: stepDay(i), y: v })), COL.clm, 1.5, 1),
    lineSet('ESA-CCI', rec.esa.map((v, i) => ({ x: stepDay(i), y: v })), COL.esa, 1.5, 2)
  ];
  if (rec.smap) {
    const pts = [];
    rec.smap.forEach((v, i) => { if (v !== null) pts.push({ x: stepDay(i), y: v }); });
    sets.push(smapSet(pts, 2.4));
  }
  addPanel({
    box, area, yTitleX,
    x: { min: 0, max: 365, ticks: monthStartDays, font: 13, tl: 4, pad: 3,
         label: (v, i) => monthLabels[i] || '' },
    y: { min: 0, max: 0.5, ticks: smcTicksYear, font: 12.5, tl: 3, pad: 3, label: v => v.toFixed(2),
         title: 'SMC [m³/m³]' },
    datasets: sets
  });
}
yearPanel(yearRec(2003), { x: 10, y: 195, w: 250, h: 103 }, { l: 71, t: 207, r: 248, b: 273 }, 30);
yearPanel(yearRec(2010), { x: 265, y: 195, w: 255, h: 103 }, { l: 325, t: 207, r: 508, b: 273 }, 283);
yearPanel(yearRec(2016), { x: 515, y: 195, w: 247, h: 103 }, { l: 570, t: 207, r: 752, b: 272 }, 534);
yearPanel(yearRec(2017), { x: 10, y: 300, w: 249, h: 102 }, { l: 69, t: 313, r: 247, b: 380 }, 30);
yearPanel(yearRec(2018), { x: 265, y: 300, w: 256, h: 102 }, { l: 325, t: 313, r: 509, b: 380 }, 283);
yearPanel(yearRec(2019), { x: 515, y: 300, w: 247, h: 102 }, { l: 570, t: 312, r: 752, b: 379 }, 534);

// ---------------- (b), (f) scatter comparisons ----------------
function scatterPanel(pairs, fit, maxV, ticks, xTitle, box, area, yTitleX) {
  addPanel({
    box, area, yTitleX,
    x: { min: 0, max: maxV, ticks, font: 11, tl: 3, pad: 4, label: v => v.toFixed(2), title: xTitle },
    y: { min: 0, max: maxV, ticks, font: 11, tl: 3, pad: 2, label: v => v.toFixed(2), title: 'CLM [m³/m³]' },
    datasets: [
      { label: '1:1', data: [{ x: 0, y: 0 }, { x: maxV, y: maxV }], showLine: true, borderColor: '#8F8F8F',
        borderWidth: 1.2, borderDash: [4, 3], pointRadius: 0, order: 0 },
      { label: 'fit', data: [{ x: fit.xFrom, y: fit.slope * fit.xFrom + fit.intercept },
                             { x: fit.xTo, y: fit.slope * fit.xTo + fit.intercept }],
        showLine: true, borderColor: '#FF1A1A', borderWidth: 1.5, borderDash: [2, 2], pointRadius: 0, order: 0 },
      { label: 'CLM', data: pairs, showLine: false, pointStyle: 'circle', pointRadius: 2.6, pointBorderWidth: 1,
        borderColor: COL.clm, backgroundColor: 'rgba(68,114,196,0.12)', order: 1 }
    ]
  });
}
scatterPanel(pairsEsa, fitClmEsa, 0.4, scatterTicksEsa, 'ESA-CCI [m³/m³]',
  { x: 750, y: 20, w: 222, h: 185 }, { l: 800, t: 35, r: 962, b: 171 }, 762);
scatterPanel(pairsSmap, fitClmSmap, 0.5, scatterTicksSmap, 'SMAP L3 [m³/m³]',
  { x: 755, y: 205, w: 217, h: 193 }, { l: 803, t: 222, r: 962, b: 358 }, 772);

// ---------------- Panel letters, titles and fit equations ----------------
const fitText = f => 'y = ' + f.slope.toFixed(4) + 'x ' + (f.intercept < 0 ? '- ' : '+ ') + Math.abs(f.intercept).toFixed(4);
addText('(a)', 64, 24, 13);
addText('AUS-VIC', 405, 24, 12, true);
addText('(b)', 797, 24, 13);
addText('(c)', 63, 196, 13);
addText('(d)', 318, 196, 13);
addText('(e)', 570, 197, 13);
addText('(f)', 802, 197, 13);
addText('(g)', 63, 305, 13);
addText('(h)', 318, 307, 13);
addText('(i)', 570, 308, 13);
addText('2003', 159.5, 202, 14, true);
addText('2010', 416.5, 203, 14, true);
addText('2016', 661, 203, 14, true);
addText('2017', 158, 308, 14, true);
addText('2018', 417, 307, 14, true);
addText('2019', 661, 308, 14, true);
addText(fitText(fitClmEsa), 905, 150, 12, true);
addText('R² = ' + fitClmEsa.r2.toFixed(4), 905, 163, 12, true);
addText(fitText(fitClmSmap), 907, 335, 12, true);
addText('R² = ' + fitClmSmap.r2.toFixed(4), 910, 347, 12, true);
</script>
</body>
</html>
